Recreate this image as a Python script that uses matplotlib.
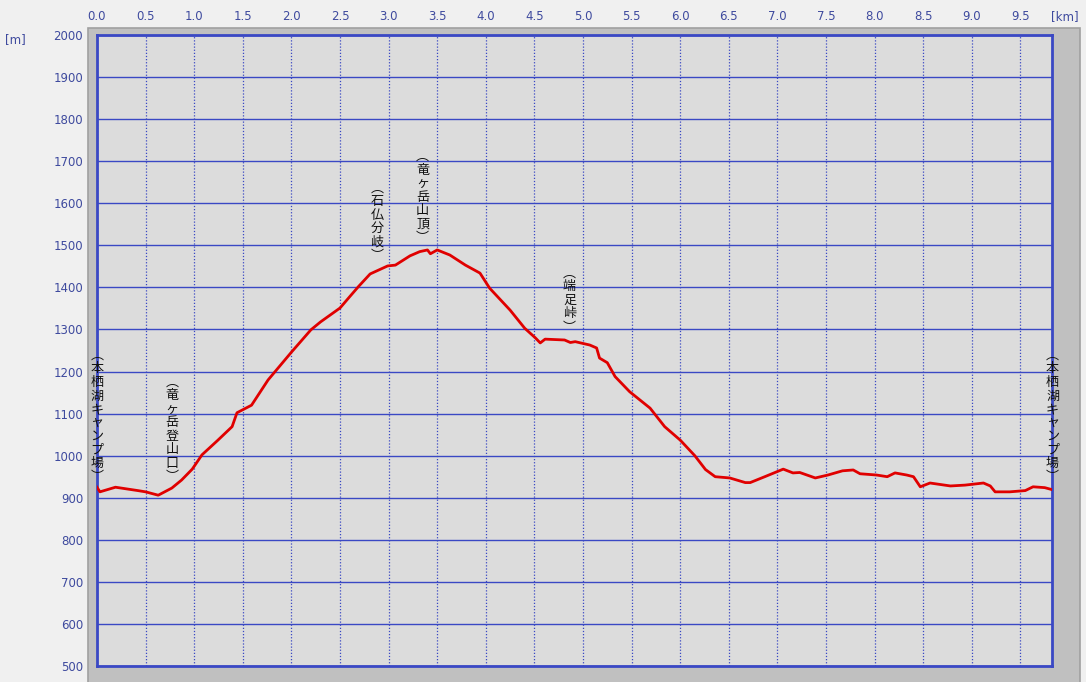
import matplotlib
matplotlib.use('Agg')
import matplotlib.pyplot as plt
from matplotlib.patches import Rectangle

# distance [km] and elevation [m]
dist = [0.00, 0.03, 0.19, 0.42, 0.50, 0.63, 0.77, 0.87, 0.98, 1.08, 1.24, 1.39, 1.44,
        1.59, 1.76, 2.00, 2.20, 2.30, 2.50, 2.60, 2.69, 2.81, 2.99, 3.07, 3.22, 3.32,
        3.40, 3.43, 3.50, 3.63, 3.79, 3.94, 4.04, 4.25, 4.40, 4.51, 4.56, 4.61, 4.81,
        4.87, 4.92, 5.07, 5.14, 5.17, 5.25, 5.33, 5.48, 5.69, 5.84, 6.00, 6.15, 6.26,
        6.36, 6.51, 6.67, 6.72, 6.87, 7.06, 7.16, 7.23, 7.39, 7.52, 7.67, 7.78, 7.85,
        8.02, 8.13, 8.21, 8.33, 8.40, 8.47, 8.57, 8.78, 8.93, 9.12, 9.19, 9.24, 9.39,
        9.55, 9.63, 9.75, 9.83]
elev = [925, 914, 925, 917, 914, 906, 923, 942, 968, 1002, 1036, 1069, 1102,
        1120, 1180, 1246, 1299, 1318, 1351, 1378, 1402, 1432, 1451, 1453, 1475, 1485,
        1489, 1480, 1489, 1477, 1453, 1434, 1398, 1346, 1303, 1280, 1268, 1277, 1275,
        1269, 1271, 1263, 1256, 1232, 1221, 1188, 1152, 1113, 1069, 1037, 1000, 967,
        950, 947, 936, 936, 950, 968, 959, 960, 947, 954, 964, 966, 957,
        954, 950, 959, 954, 950, 926, 935, 928, 930, 935, 928, 914, 914,
        917, 926, 924, 919]

# waypoint labels: name, km, elevation of the label's lower end
wp_names = ['本栖湖キャンプ場', '竜ヶ岳登山口', '石仏分岐', '竜ヶ岳山頂', '端足峠', '本栖湖キャンプ場']
wp_km = [0.0, 0.77, 2.88, 3.35, 4.86, 9.83]
wp_base = [934, 934, 1460, 1503, 1290, 934]

xticks = [0.0, 0.5, 1.0, 1.5, 2.0, 2.5, 3.0, 3.5, 4.0, 4.5, 5.0, 5.5, 6.0, 6.5, 7.0,
          7.5, 8.0, 8.5, 9.0, 9.5]
yticks = [500, 600, 700, 800, 900, 1000, 1100, 1200, 1300, 1400, 1500, 1600, 1700,
          1800, 1900, 2000]

blue = '#3a48c4'
txt_blue = '#3e4a9e'

fig = plt.figure(figsize=(10.86, 6.82), dpi=100)
fig.patch.set_facecolor('#f0f0f0')

# grey frame around the plot
fig.patches.append(Rectangle((88 / 1086, -0.05), 992 / 1086, 1 - 28 / 682 + 0.05,
                             transform=fig.transFigure, facecolor='#c0c0c0',
                             edgecolor='#a0a0a0', linewidth=1.2, zorder=-5))

ax = fig.add_axes([97 / 1086, 1 - 666 / 682, 955 / 1086, 631 / 682])
ax.set_facecolor('#dcdcdc')
ax.set_xlim(0, 9.825)
ax.set_ylim(500, 2000)

ax.plot(dist, elev, color='#e00000', linewidth=2.0, zorder=3)

ax.set_xticks(xticks)
ax.set_xticklabels([f'{v:.1f}' for v in xticks])
ax.set_yticks(yticks)
ax.xaxis.tick_top()
ax.tick_params(axis='both', length=0, labelsize=8.5, labelcolor=txt_blue)
ax.tick_params(axis='x', pad=9)
ax.tick_params(axis='y', pad=10)

for v in yticks:
    ax.axhline(v, color=blue, linewidth=1.0, zorder=1)
for v in xticks:
    ax.axvline(v, color=blue, linewidth=0.9, linestyle=(0, (1, 1.5)), zorder=1)

for s in ax.spines.values():
    s.set_color(blue)
    s.set_linewidth(2.0)

fig.text(5 / 1086, 1 - 40 / 682, '[m]', color=txt_blue, fontsize=8.5, va='center')
fig.text(1079 / 1086, 1 - 17 / 682, '[km]', color=txt_blue, fontsize=8.5, va='center',
         ha='right')

for name, km, base in zip(wp_names, wp_km, wp_base):
    label = '\n'.join(['︵'] + list(name) + ['︶'])
    ax.text(km, base, label, ha='center', va='bottom', fontsize=9.4,
            family=['Noto Sans CJK JP', 'DejaVu Sans'], color='#111111',
            linespacing=1.05, zorder=4, clip_on=False)

fig.savefig('out.png', dpi=100, facecolor=fig.get_facecolor())
